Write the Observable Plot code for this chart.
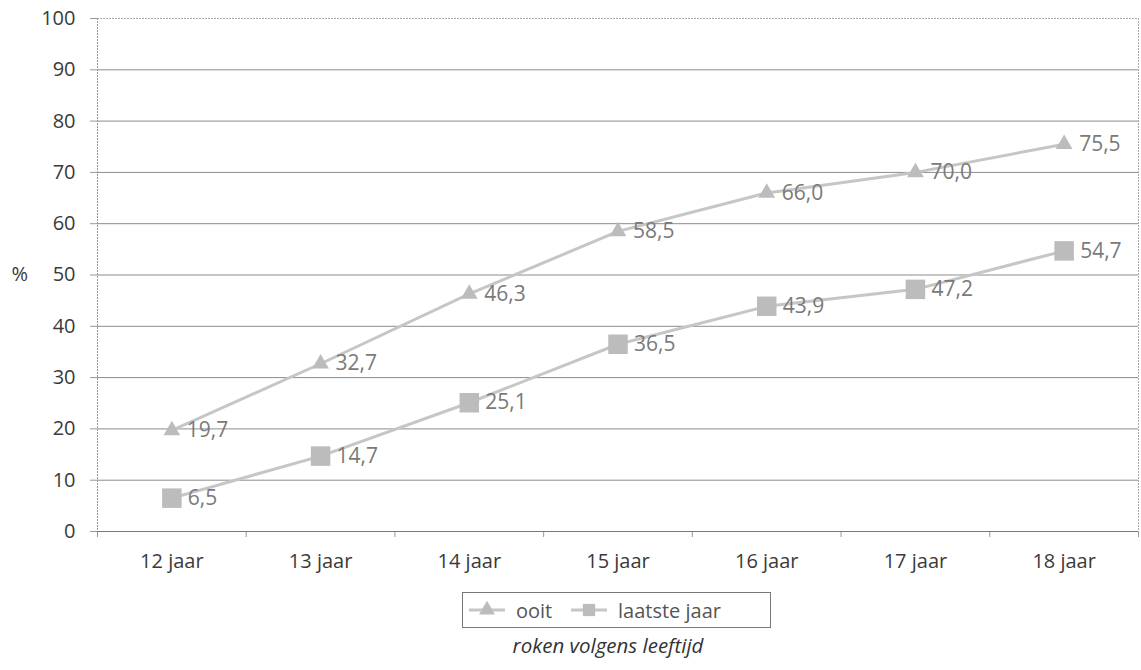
<!DOCTYPE html>
<html>
<head>
<meta charset="utf-8">
<script src="https://cdn.jsdelivr.net/npm/d3@7"></script>
<script src="https://cdn.jsdelivr.net/npm/@observablehq/plot@0.6"></script>
<style>
  body { margin: 0; background: #fff; font-family: "Open Sans", sans-serif; }
  #wrap { position: relative; width: 1141px; height: 670px; }
  #legend { position: absolute; left: 462px; top: 592px; width: 307px; height: 34px;
            border: 1px solid #777; box-sizing: content-box; font-size: 20px; color: #555; }
  #legend .item { position: absolute; top: 0; height: 34px; display: flex; align-items: center; }
  #caption { position: absolute; left: 0; width: 1216px; top: 631px; text-align: center;
             font-style: italic; font-size: 20.5px; color: #333; }
</style>
</head>
<body>
<div id="wrap">
  <div id="chart"></div>
  <div id="legend"></div>
  <div id="caption">roken volgens leeftijd</div>
</div>
<script>
const categories = ["12 jaar", "13 jaar", "14 jaar", "15 jaar", "16 jaar", "17 jaar", "18 jaar"];
const ooit = [19.7, 32.7, 46.3, 58.5, 66.0, 70.0, 75.5];
const laatsteJaar = [6.5, 14.7, 25.1, 36.5, 43.9, 47.2, 54.7];
const seriesNames = ["ooit", "laatste jaar"];
const yTicks = [0, 10, 20, 30, 40, 50, 60, 70, 80, 90, 100];

const rows = [];
categories.forEach((c, i) => {
  rows.push({series: seriesNames[0], i, value: ooit[i]});
  rows.push({series: seriesNames[1], i, value: laatsteJaar[i]});
});
const A = rows.filter(d => d.series === seriesNames[0]);
const B = rows.filter(d => d.series === seriesNames[1]);
const fmt = v => v.toFixed(1).replace(".", ",");
const idx = categories.map((c, i) => i);
const bounds = [-0.5, ...idx.map(i => i + 0.5)];

const lineColor = "#c6c6c6";
const markColor = "#bcbcbc";
const labelColor = "#7a7a7a";
const axisText = "#3a3a3a";

const chart = Plot.plot({
  width: 1141,
  height: 585,
  marginLeft: 97,
  marginRight: 3,
  marginTop: 18,
  marginBottom: 54,
  style: {fontFamily: "'Open Sans', sans-serif", fontSize: "20px", color: "#333", background: "#fff"},
  x: {type: "linear", domain: [-0.5, categories.length - 0.5]},
  y: {domain: [0, 100]},
  marks: [
    Plot.gridY(yTicks.filter(t => t > 0 && t < 100), {stroke: "#8c8c8c", strokeOpacity: 1, strokeWidth: 1}),
    Plot.ruleY([100], {stroke: "#aaa", strokeDasharray: "2,1", x1: -0.5, x2: categories.length - 0.5}),
    Plot.ruleX([-0.5], {stroke: "#999", strokeDasharray: "2,1"}),
    Plot.ruleX([categories.length - 0.5], {stroke: "#aaa", strokeDasharray: "2,1"}),
    Plot.axisY({ticks: yTicks, tickSize: 7, tickPadding: 15, label: null, stroke: "#999", fill: axisText, fontSize: 20}),
    Plot.axisX({ticks: bounds, tickFormat: () => "", tickSize: 6, label: null, stroke: "#999"}),
    Plot.axisX({ticks: idx, tickFormat: i => categories[i], tickSize: 0, tickPadding: 22, label: null, fill: axisText, fontSize: 20}),
    Plot.ruleY([0], {stroke: "#777", strokeWidth: 1.2}),
    Plot.text(["%"], {frameAnchor: "left", y: [50], dx: -86, textAnchor: "start", fill: axisText, fontSize: 20}),
    Plot.line(A, {x: "i", y: "value", stroke: lineColor, strokeWidth: 3}),
    Plot.line(B, {x: "i", y: "value", stroke: lineColor, strokeWidth: 3}),
    Plot.dot(A, {x: "i", y: "value", symbol: "triangle", r: 6.2, fill: markColor}),
    Plot.dot(B, {x: "i", y: "value", symbol: "square", r: 11, fill: markColor}),
    Plot.text(A, {x: "i", y: "value", text: d => fmt(d.value), dx: 15, textAnchor: "start", fill: labelColor, fontSize: 21}),
    Plot.text(B, {x: "i", y: "value", text: d => fmt(d.value), dx: 16, textAnchor: "start", fill: labelColor, fontSize: 21})
  ]
});
document.getElementById("chart").appendChild(chart);

// Legend
const legend = document.getElementById("legend");
const items = [
  {name: seriesNames[0], symbol: d3.symbolTriangle, size: 110, left: 5},
  {name: seriesNames[1], symbol: d3.symbolSquare, size: 150, left: 107}
];
for (const it of items) {
  const div = document.createElement("div");
  div.className = "item";
  div.style.left = it.left + "px";
  const svg = d3.create("svg").attr("width", 40).attr("height", 34);
  svg.append("line").attr("x1", 1).attr("x2", 37).attr("y1", 17).attr("y2", 17)
    .attr("stroke", lineColor).attr("stroke-width", 3);
  svg.append("path").attr("d", d3.symbol(it.symbol, it.size)()).attr("transform", "translate(19,17)")
    .attr("fill", markColor);
  div.appendChild(svg.node());
  const span = document.createElement("span");
  span.textContent = it.name;
  span.style.marginLeft = "8px";
  div.appendChild(span);
  legend.appendChild(div);
}
</script>
</body>
</html>
